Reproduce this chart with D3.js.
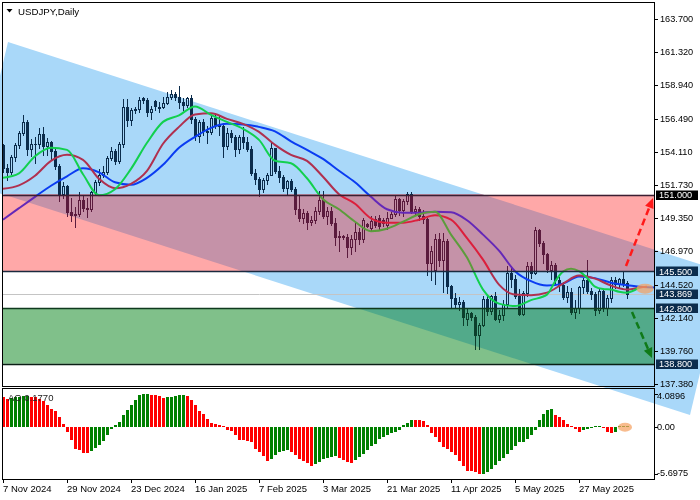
<!DOCTYPE html>
<html><head><meta charset="utf-8">
<script src="https://cdn.jsdelivr.net/npm/d3@7"></script>
<style>
html,body{margin:0;padding:0;background:#fff;}
svg{display:block;}
text{font-family:"Liberation Sans",Arial,sans-serif;}
</style></head>
<body><svg id="chart" width="700" height="500"></svg>
<script>
// ---------------- DATA ----------------
const symbolTitle = "USDJPY,Daily";
const dateTicks = ["7 Nov 2024","29 Nov 2024","23 Dec 2024","16 Jan 2025","7 Feb 2025","3 Mar 2025","21 Mar 2025","11 Apr 2025","5 May 2025","27 May 2025"];
const dateTickStep = 16;
const priceTicks = [163.70,161.32,158.94,156.49,154.11,151.73,149.35,146.97,144.52,142.14,139.76,137.38];
const aoTicks = [4.0896,0,-5.6975];
const aoLabel = "AO 0.1770";
const lastPrice = 143.869;
const levels = [151.0,145.5,142.8,138.8];
const pinkBand = [145.5,151.0];
const greenBand = [138.8,142.8];

const opens = [154.60,152.97,152.64,153.73,154.60,155.45,156.27,154.30,154.64,154.67,
155.43,154.52,154.79,154.18,153.06,151.07,151.61,149.77,149.58,149.60,
150.60,150.06,149.99,151.21,151.94,152.45,152.65,153.65,154.15,153.48,
154.67,157.38,156.41,157.16,157.20,158.00,157.88,156.98,157.75,157.25,
157.35,157.66,158.06,158.30,158.04,157.74,157.52,158.00,156.45,155.22,
156.29,155.60,155.52,156.58,156.01,155.97,154.56,155.50,155.21,154.28,
155.17,154.79,154.34,152.60,152.15,151.41,152.05,152.47,154.37,152.76,
152.31,151.48,151.98,151.45,150.00,149.30,149.67,149.02,149.19,149.80,
150.60,149.46,149.86,149.00,147.99,148.02,147.95,147.26,147.78,148.30,
147.82,148.90,148.60,149.25,149.30,149.15,148.85,149.35,149.65,150.69,
149.89,150.57,151.06,149.84,149.96,149.45,149.25,146.07,145.60,147.80,
146.28,147.70,144.40,143.52,143.10,143.25,142.05,142.45,142.17,140.89,
141.63,143.50,142.60,143.67,142.03,142.33,143.09,145.38,144.95,143.68,
142.43,143.90,145.88,145.37,148.44,147.50,146.71,145.55,145.95,144.88,
144.50,143.65,144.00,142.55,142.84,144.33,144.86,144.07,143.85,142.69,
144.05,142.82,143.52,144.85,144.55,144.90,144.62];
const highs = [154.71,153.25,153.87,154.75,155.63,156.75,156.40,155.00,155.15,155.85,
155.89,155.10,154.90,154.45,153.20,151.95,151.70,150.75,150.10,151.20,
150.90,150.80,151.30,152.10,152.85,153.10,153.80,154.45,154.30,154.85,
157.93,157.90,157.30,157.35,158.05,158.08,158.00,157.40,157.85,157.70,
158.05,158.40,158.55,158.45,158.87,158.00,158.10,158.20,156.60,156.40,
156.50,156.00,156.75,156.85,156.70,156.10,155.85,155.70,155.30,155.30,
155.88,155.20,154.50,152.90,152.30,152.25,152.60,154.80,154.40,153.10,
152.40,152.10,152.15,151.60,150.90,150.00,149.80,149.50,150.10,151.25,
151.30,150.10,150.15,149.35,148.40,148.10,148.20,148.10,149.05,148.60,
149.30,149.00,149.45,149.45,149.55,149.35,149.75,149.75,150.95,150.75,
150.70,151.20,151.20,150.20,150.10,149.90,149.35,147.30,148.14,148.28,
148.28,147.85,144.50,143.90,143.65,143.40,142.75,142.55,142.30,141.75,
143.70,143.75,143.80,144.00,142.70,143.40,145.90,145.90,145.20,144.20,
144.05,146.15,146.18,148.65,148.55,147.70,146.80,146.20,146.10,145.10,
144.70,144.40,144.30,143.40,144.45,145.00,146.28,144.30,144.00,144.20,
144.15,143.75,145.10,145.05,145.00,145.50,144.80];
const lows = [152.66,152.10,152.50,153.45,154.40,155.30,153.86,153.80,153.29,154.40,
153.90,153.90,153.55,152.90,150.55,150.80,149.47,149.10,148.65,149.50,
149.80,149.40,149.80,151.00,151.70,152.30,152.50,153.50,153.20,153.30,
154.45,155.95,156.05,156.90,157.00,157.65,156.70,156.50,157.15,156.95,
157.25,157.55,157.90,157.85,157.30,157.10,157.35,156.20,154.97,154.80,
155.30,154.75,155.40,155.80,155.30,153.72,154.30,154.80,153.80,154.00,
154.40,154.20,152.40,151.80,150.95,151.20,151.80,152.40,152.60,151.90,
151.30,151.00,151.30,149.60,149.10,148.95,148.55,148.80,148.95,149.60,
149.30,148.90,148.80,147.40,146.95,147.85,146.55,146.70,146.95,147.45,
147.60,148.65,148.40,148.70,148.55,148.75,148.55,149.30,149.50,149.55,
149.50,150.35,149.70,149.60,149.15,149.00,145.20,144.85,144.55,145.85,
144.00,143.95,142.90,142.85,142.70,141.60,141.60,142.00,139.89,139.90,
141.50,142.30,142.40,141.95,141.80,141.98,142.90,144.35,143.55,142.35,
142.35,143.70,144.98,145.30,147.30,146.05,145.45,144.90,144.60,144.05,
143.45,143.30,142.40,142.10,142.45,143.90,143.95,143.45,142.35,142.45,
142.65,142.35,143.25,144.25,144.30,144.40,143.55];
const closes = [152.97,152.64,153.73,154.60,155.45,156.27,154.30,154.64,154.67,155.43,
154.52,154.79,154.18,153.06,151.07,151.61,149.77,149.58,149.60,150.60,
150.06,149.99,151.21,151.94,152.45,152.65,153.65,154.15,153.48,154.67,
157.38,156.41,157.16,157.20,157.82,157.88,156.98,157.20,157.45,157.35,
157.66,158.06,158.30,158.04,157.74,157.52,158.00,156.45,155.22,156.29,
155.60,155.52,156.58,156.01,155.97,154.56,155.50,155.21,154.28,155.17,
154.79,154.34,152.60,152.15,151.41,152.05,152.47,154.37,152.76,152.31,
151.48,151.98,151.45,149.95,149.30,149.67,149.02,149.19,149.80,150.60,
149.46,149.86,149.00,147.99,148.02,147.95,147.26,147.78,148.30,147.82,
149.20,148.72,149.10,148.85,148.75,148.95,149.35,149.65,150.69,149.89,
150.57,151.06,149.84,149.96,149.45,149.25,146.07,146.92,147.80,146.28,
147.70,144.40,143.52,143.10,143.25,142.20,142.45,142.17,140.89,141.63,
143.50,142.60,143.67,142.03,142.33,143.09,145.38,144.95,143.68,142.43,
143.90,145.88,145.37,148.44,147.50,146.71,145.66,145.95,144.88,144.50,
143.65,144.00,142.55,142.84,144.33,144.86,144.07,143.85,142.69,144.05,
142.82,143.52,144.85,144.55,144.90,144.62,143.869];

// Alligator lines: [bar index, price]
const jaw = [[0,149.21],[4,150.04],[8,150.86],[12,151.66],[16,152.34],[20,152.92],[24,152.63],[28,151.91],[32,151.73],[36,152.23],[40,153.17],[44,154.40],[48,155.19],[52,155.84],[56,156.13],[60,156.09],[64,155.91],[68,155.59],[72,154.87],[76,154.25],[80,153.60],[84,152.74],[88,151.91],[92,150.86],[96,149.96],[100,149.71],[104,149.71],[108,149.78],[112,149.75],[116,149.17],[120,148.13],[124,146.97],[128,145.49],[132,144.77],[136,144.45],[140,144.59],[144,145.10],[148,144.99],[152,144.66],[156,144.48],[160,144.34],[164,144.30]];
const teeth = [[0,151.44],[4,151.69],[8,152.38],[12,153.46],[16,153.89],[20,153.53],[24,152.16],[28,151.48],[32,151.80],[36,152.74],[40,154.69],[44,155.91],[48,156.81],[52,156.89],[56,156.49],[60,156.13],[64,155.55],[68,154.61],[72,153.89],[76,153.46],[80,152.31],[84,151.05],[88,150.36],[92,149.31],[96,148.99],[100,148.99],[104,149.21],[108,149.53],[112,149.21],[116,147.87],[120,146.32],[124,144.52],[128,143.80],[132,143.76],[136,143.94],[140,144.59],[144,145.17],[148,144.95],[152,144.45],[156,144.16],[160,144.34],[161,144.37]];
const lips = [[0,152.23],[4,152.56],[8,153.79],[12,154.40],[16,154.25],[20,152.49],[24,150.97],[28,151.41],[32,152.88],[36,154.76],[40,156.27],[44,156.74],[48,157.39],[52,156.78],[56,156.27],[60,155.77],[64,154.97],[68,153.46],[72,153.28],[76,152.20],[80,150.68],[84,149.96],[88,149.06],[92,148.38],[96,148.56],[100,149.06],[104,149.60],[108,149.78],[112,148.13],[116,146.47],[120,144.16],[124,143.15],[128,142.97],[132,143.40],[136,143.80],[138,144.74],[140,145.46],[142,145.67],[144,145.49],[146,145.02],[148,144.38],[150,144.20],[152,144.16],[154,144.01],[156,143.94],[159,144.30]];

// Awesome Oscillator values
const ao = [3.64,3.44,3.56,3.64,3.72,3.77,3.81,3.72,3.64,3.44,
3.16,2.75,2.23,2.02,1.21,0.40,-0.61,-1.62,-2.63,-2.83,
-3.16,-3.20,-2.91,-2.55,-2.23,-1.70,-0.93,-0.28,0.20,0.61,
1.42,2.11,2.75,3.24,3.85,3.97,4.0896,3.93,3.89,3.81,
3.60,3.62,3.72,3.81,3.85,3.87,3.80,3.32,2.75,2.02,
1.54,0.93,0.49,0.40,0.28,0.08,-0.32,-0.53,-1.01,-1.54,
-1.62,-1.66,-1.82,-2.63,-3.04,-3.56,-4.13,-3.85,-3.44,-3.04,
-2.96,-2.83,-3.04,-3.44,-3.85,-4.13,-4.33,-4.74,-4.53,-4.25,
-3.93,-3.72,-3.60,-3.56,-3.72,-4.05,-4.25,-4.33,-3.97,-3.64,
-3.32,-2.83,-2.35,-2.02,-1.50,-1.21,-0.93,-0.73,-0.61,-0.40,
0.20,0.49,0.89,0.85,0.81,0.77,0.20,-0.69,-1.21,-1.82,
-2.43,-2.71,-3.04,-3.44,-4.17,-4.78,-5.34,-5.38,-5.51,-5.6975,
-5.67,-5.47,-5.06,-4.66,-4.13,-3.72,-3.24,-2.83,-2.31,-1.86,
-1.78,-1.42,-1.01,-0.40,0.81,1.62,2.11,2.23,1.50,1.21,
0.81,0.40,0.08,-0.28,-0.61,-0.40,-0.20,0.04,0.08,0.12,
-0.12,-0.65,-0.69,-0.61,0.08,0.12,0.177];

// annotation objects in chart coordinates [bar, price]
const channelPts = [[1.25,162.04],[-7.25,151.71],[171.75,135.11],[180.25,145.43]];
const arrowUp = [[155.75,145.86],[162.5,150.77]];
const arrowDown = [[157.25,142.54],[162.25,139.22]];
const markMain = [160.5,144.23];
const markAO = [155.5,0];

// ---------------- CHART ----------------
const svg = d3.select("#chart");
const L=3, R=654, T=3, B=386, aoT=389, aoB=479;
const x = d3.scaleLinear().domain([0,156]).range([3,627]);
const y = d3.scaleLinear().domain([137.38,163.70]).range([383.5,19]);
const yAO = d3.scaleLinear().domain([-5.6975,4.0896]).range([474,393.5]);

svg.append("rect").attr("width",700).attr("height",500).attr("fill","#fff");
const defs = svg.append("defs");
function clipRect(id,x0,y0,w,h){defs.append("clipPath").attr("id",id).append("rect").attr("x",x0).attr("y",y0).attr("width",w).attr("height",h);}
clipRect("cMain",L,T,R-L,B-T);
const yP1=y(pinkBand[1]), yP0=y(pinkBand[0]);
const yG1=y(greenBand[1]), yG0=y(greenBand[0]);
clipRect("cPink",L,yP1,R-L,yP0-yP1);
clipRect("cGreen",L,yG1,R-L,yG0-yG1);
const cOut=defs.append("clipPath").attr("id","cOut");
[[T,yP1],[yP0,yG1],[yG0,B]].forEach(([a,b])=>cOut.append("rect").attr("x",L).attr("y",a).attr("width",R-L).attr("height",b-a));
clipRect("cAO",L,aoT,R-L,aoB-aoT);

const chanD = "M"+channelPts.map(p=>x(p[0])+","+y(p[1])).join("L")+"Z";
svg.append("path").attr("d",chanD).attr("fill","#a9d8f9");

const gm = svg.append("g").attr("clip-path","url(#cMain)");
const gp = gm.append("g").attr("clip-path","url(#cPink)");
gp.append("rect").attr("x",L).attr("y",yP1).attr("width",R-L).attr("height",yP0-yP1).attr("fill","#ffa8a8");
gp.append("path").attr("d",chanD).attr("fill","#c592a8");
const gg = gm.append("g").attr("clip-path","url(#cGreen)");
gg.append("rect").attr("x",L).attr("y",yG1).attr("width",R-L).attr("height",yG0-yG1).attr("fill","#80c08a");
gg.append("path").attr("d",chanD).attr("fill","#52aa8a");

const yLP = Math.round(y(lastPrice))+0.5;
gm.append("line").attr("x1",L).attr("x2",R).attr("y1",yLP).attr("y2",yLP)
  .attr("stroke","#c4c4c4").attr("stroke-width",1).style("mix-blend-mode","multiply");

function drawContent(g,pal){
  const cg = g.append("g").attr("shape-rendering","crispEdges");
  closes.forEach((c,i)=>{
    const o=opens[i], h=highs[i], l=lows[i];
    const cx=Math.round(x(i));
    const yo=Math.round(y(o)), yc=Math.round(y(c)), yh=Math.round(y(h)), yl=Math.round(y(l));
    const top=Math.min(yo,yc), bot=Math.max(yo,yc);
    if(top>yh) cg.append("rect").attr("x",cx).attr("y",yh).attr("width",1).attr("height",top-yh).attr("fill",pal.candle);
    if(yl>bot) cg.append("rect").attr("x",cx).attr("y",bot+1).attr("width",1).attr("height",yl-bot).attr("fill",pal.candle);
    if(c>o && bot-top>=2){
      cg.append("rect").attr("x",cx-0.5).attr("y",top+0.5).attr("width",2).attr("height",bot-top)
        .attr("fill","none").attr("stroke",pal.candle).attr("stroke-width",1);
    } else {
      cg.append("rect").attr("x",cx-1).attr("y",top).attr("width",3).attr("height",Math.max(1,bot-top+1)).attr("fill",pal.candle);
    }
  });
  const lg = d3.line().x(d=>x(d[0])).y(d=>y(d[1])).curve(d3.curveMonotoneX);
  g.append("path").attr("d",lg(jaw)).attr("fill","none").attr("stroke",pal.jaw).attr("stroke-width",2);
  g.append("path").attr("d",lg(teeth)).attr("fill","none").attr("stroke",pal.teeth).attr("stroke-width",2);
  g.append("path").attr("d",lg(lips)).attr("fill","none").attr("stroke",pal.lips).attr("stroke-width",2);
}
drawContent(gm.append("g").attr("clip-path","url(#cOut)"),{candle:"#0b2c4c",jaw:"#0a3cf2",teeth:"#b0304f",lips:"#12d04e"});
drawContent(gm.append("g").attr("clip-path","url(#cPink)"),{candle:"#5b1b3d",jaw:"#6428b8",teeth:"#dc1f3c",lips:"#5c9c3c"});
drawContent(gm.append("g").attr("clip-path","url(#cGreen)"),{candle:"#0c3f2c",jaw:"#0a3a9a",teeth:"#7a3040",lips:"#10b060"});

const levelColors = ["#3a1f33","#1b2a3f","#0f3a1e","#0a1f14"];
levels.forEach((v,k)=>{
  const yy=Math.round(y(v))+0.5;
  gm.append("line").attr("x1",L).attr("x2",R).attr("y1",yy).attr("y2",yy).attr("stroke",levelColors[k]).attr("stroke-width",1.4);
});

// annotations
const ga = svg.append("g");
function arrow(p0,p1,color){
  const x0=x(p0[0]),y0=y(p0[1]),x1=x(p1[0]),y1=y(p1[1]);
  const a=Math.atan2(y1-y0,x1-x0), hl=10, hw=4.5;
  const bx=x1-hl*Math.cos(a), by=y1-hl*Math.sin(a);
  ga.append("line").attr("x1",x0).attr("y1",y0).attr("x2",bx).attr("y2",by)
    .attr("stroke",color).attr("stroke-width",2.5).attr("stroke-dasharray","7,4");
  ga.append("path").attr("d",`M${x1},${y1}L${bx+hw*Math.sin(a)},${by-hw*Math.cos(a)}L${bx-hw*Math.sin(a)},${by+hw*Math.cos(a)}Z`).attr("fill",color);
}
arrow(arrowUp[0],arrowUp[1],"#ff1a1a");
arrow(arrowDown[0],arrowDown[1],"#0f7a18");
ga.append("ellipse").attr("cx",x(markMain[0])).attr("cy",y(markMain[1])).attr("rx",8.5).attr("ry",5)
  .attr("fill","#f5a262").attr("opacity",0.72);

// frames
svg.append("rect").attr("x",2.5).attr("y",2.5).attr("width",652).attr("height",384).attr("fill","none").attr("stroke","#000");
svg.append("rect").attr("x",2.5).attr("y",388.5).attr("width",652).attr("height",91).attr("fill","none").attr("stroke","#000");

// price axis
const fs = "9.5px", fsP = "9.2px";
priceTicks.forEach(v=>{
  const yy=Math.round(y(v))+0.5;
  svg.append("line").attr("x1",655).attr("x2",658).attr("y1",yy).attr("y2",yy).attr("stroke","#000");
  svg.append("text").attr("x",660).attr("y",y(v)).attr("dy","0.35em").attr("font-size",fsP).attr("fill","#000").text(v.toFixed(3));
});
const boxes = levels.concat([lastPrice]);
boxes.forEach((v,k)=>{
  const yy=y(v);
  svg.append("rect").attr("x",656).attr("y",Math.round(yy)-4.5).attr("width",42).attr("height",9.5)
    .attr("fill",k===0?"#000":"#0b2c4d");
  svg.append("text").attr("x",659).attr("y",yy+0.3).attr("dy","0.35em").attr("font-size",fsP).attr("fill","#fff").text(v.toFixed(3));
});

// title
svg.append("path").attr("d","M6.5,9L12.5,9L9.5,12.5Z").attr("fill","#000");
svg.append("text").attr("x",18).attr("y",14.5).attr("font-size","9.7px").attr("fill","#000").text(symbolTitle);

// AO panel
const gao = svg.append("g").attr("clip-path","url(#cAO)").attr("shape-rendering","crispEdges");
const y0ao = Math.round(yAO(0));
ao.forEach((v,i)=>{
  const cx=Math.round(x(i));
  const yv=Math.round(yAO(v));
  const up = i>0 && v>ao[i-1];
  gao.append("rect").attr("x",cx-1).attr("y",Math.min(yv,y0ao)).attr("width",3).attr("height",Math.max(1,Math.abs(yv-y0ao)))
    .attr("fill",up?"#008000":"#ff0000");
});
svg.append("ellipse").attr("cx",x(markAO[0])).attr("cy",yAO(markAO[1])).attr("rx",7).attr("ry",4.5)
  .attr("fill","#f5a262").attr("opacity",0.72);
svg.append("text").attr("x",8).attr("y",400.5).attr("font-size",fs).attr("fill","#222").text(aoLabel);
aoTicks.forEach((v,k)=>{
  const yy=Math.round(yAO(v))+0.5;
  svg.append("line").attr("x1",655).attr("x2",658).attr("y1",yy).attr("y2",yy).attr("stroke","#000");
  const ty = k===0 ? yAO(v)+2 : (k===2 ? yAO(v)-1.5 : yAO(v));
  svg.append("text").attr("x",657).attr("y",ty).attr("dy","0.35em").attr("font-size",fsP).attr("fill","#000")
    .text(v===0?"0.00":v.toFixed(4));
});

// date axis
dateTicks.forEach((t,k)=>{
  const xx=Math.round(x(k*dateTickStep))+0.5;
  svg.append("line").attr("x1",xx).attr("x2",xx).attr("y1",480).attr("y2",483).attr("stroke","#000");
  svg.append("text").attr("x",xx-0.5).attr("y",492).attr("font-size",fs).attr("fill","#000").text(t);
});
</script>
</body></html>
